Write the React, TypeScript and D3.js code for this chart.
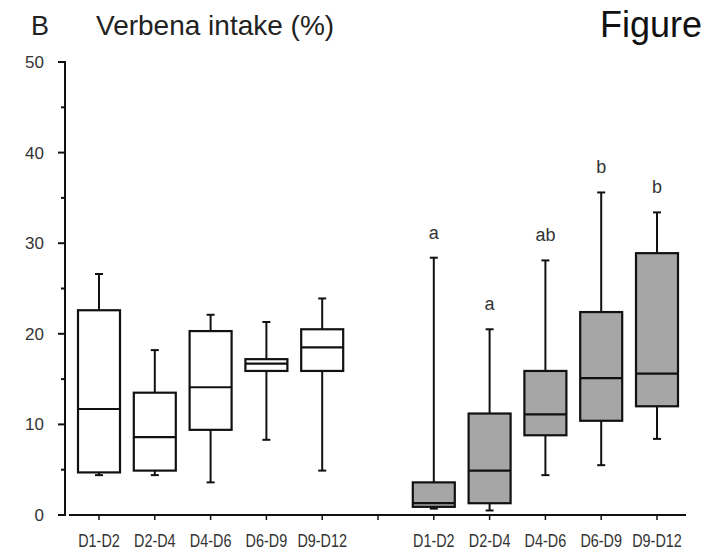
import React, { useEffect, useRef } from 'react';
import * as d3 from 'd3';

const days = ['D1-D2', 'D2-D4', 'D4-D6', 'D6-D9', 'D9-D12'];

// white boxes (left group)
const controlLow = [4.4, 4.4, 3.6, 8.3, 4.9];
const controlQ1 = [4.7, 4.9, 9.4, 15.9, 15.9];
const controlMed = [11.7, 8.6, 14.1, 16.7, 18.5];
const controlQ3 = [22.6, 13.5, 20.3, 17.2, 20.5];
const controlHigh = [26.6, 18.2, 22.1, 21.3, 23.9];

// grey boxes (right group)
const treatLow = [0.7, 0.5, 4.4, 5.5, 8.4];
const treatQ1 = [0.9, 1.3, 8.8, 10.4, 12.0];
const treatMed = [1.3, 4.9, 11.1, 15.1, 15.6];
const treatQ3 = [3.6, 11.2, 15.9, 22.4, 28.9];
const treatHigh = [28.4, 20.5, 28.1, 35.6, 33.4];
const treatLetters = ['a', 'a', 'ab', 'b', 'b'];

const yTicks = [0, 10, 20, 30, 40, 50];

const FONT = 'Liberation Sans, Arial, sans-serif';

const App = () => {
  const svgRef = useRef<SVGSVGElement>(null);

  useEffect(() => {
    const svg = d3.select(svgRef.current);
    svg.selectAll('*').remove();

    const y = d3.scaleLinear().domain([0, 50]).range([515, 62]);
    const x = d3.scaleLinear().domain([1, 11]).range([99, 657]);
    const boxW = 42;
    const capW = 8;
    const ink = '#111';

    // header texts
    svg.append('text').attr('x', 31).attr('y', 35)
      .style('font-family', FONT)
      .style('font-size', '27px').style('fill', '#222').text('B');
    svg.append('text').attr('x', 96).attr('y', 35)
      .style('font-family', FONT)
      .style('font-size', '28px').style('fill', '#222').text('Verbena intake (%)');
    svg.append('text').attr('x', 600).attr('y', 37)
      .style('font-family', FONT)
      .style('font-size', '36px').style('fill', '#111').text('Figure');

    // y axis
    const yAxis = svg.append('g');
    yAxis.append('line')
      .attr('x1', 65).attr('x2', 65)
      .attr('y1', y(50) - 1).attr('y2', y(0) + 1)
      .attr('stroke', ink).attr('stroke-width', 2);
    d3.range(0, 51, 5).forEach(v => {
      const major = v % 10 === 0;
      yAxis.append('line')
        .attr('x1', major ? 58 : 61).attr('x2', 65)
        .attr('y1', y(v)).attr('y2', y(v))
        .attr('stroke', ink).attr('stroke-width', 2);
    });
    yAxis.selectAll('.ylab')
      .data(yTicks)
      .enter()
      .append('text')
      .attr('class', 'ylab')
      .attr('x', 44)
      .attr('y', d => y(d))
      .attr('dy', '0.35em')
      .attr('text-anchor', 'end')
      .style('font-family', FONT)
      .style('font-size', '17px')
      .style('fill', '#333')
      .text(d => d);

    // x axis
    const xAxis = svg.append('g');
    xAxis.append('line')
      .attr('x1', 69).attr('x2', 686)
      .attr('y1', y(0)).attr('y2', y(0))
      .attr('stroke', ink).attr('stroke-width', 2);
    d3.range(1, 12).forEach(p => {
      xAxis.append('line')
        .attr('x1', x(p)).attr('x2', x(p))
        .attr('y1', y(0)).attr('y2', y(0) + 5)
        .attr('stroke', ink).attr('stroke-width', 1.5);
    });

    const groups = [
      { start: 1, fill: '#fff', low: controlLow, q1: controlQ1, med: controlMed, q3: controlQ3, high: controlHigh, letters: null as string[] | null },
      { start: 7, fill: '#a6a6a6', low: treatLow, q1: treatQ1, med: treatMed, q3: treatQ3, high: treatHigh, letters: treatLetters },
    ];

    groups.forEach(gr => {
      const g = svg.append('g');
      days.forEach((day, i) => {
        const cx = x(gr.start + i);

        // narrow-looking tick labels (squeezed sans)
        xAxis.append('text')
          .attr('transform', `translate(${cx},547) scale(0.8,1)`)
          .attr('text-anchor', 'middle')
          .style('font-family', FONT)
          .style('font-size', '18px')
          .style('fill', '#333')
          .text(day);

        // whiskers
        [[gr.high[i], gr.q3[i]], [gr.low[i], gr.q1[i]]].forEach(([end, edge]) => {
          g.append('line')
            .attr('x1', cx).attr('x2', cx)
            .attr('y1', y(end)).attr('y2', y(edge))
            .attr('stroke', ink).attr('stroke-width', 2);
          g.append('line')
            .attr('x1', cx - capW / 2).attr('x2', cx + capW / 2)
            .attr('y1', y(end)).attr('y2', y(end))
            .attr('stroke', ink).attr('stroke-width', 2);
        });

        g.append('rect')
          .attr('x', cx - boxW / 2)
          .attr('y', y(gr.q3[i]))
          .attr('width', boxW)
          .attr('height', y(gr.q1[i]) - y(gr.q3[i]))
          .attr('fill', gr.fill)
          .attr('stroke', ink)
          .attr('stroke-width', 2.2);

        g.append('line')
          .attr('x1', cx - boxW / 2).attr('x2', cx + boxW / 2)
          .attr('y1', y(gr.med[i])).attr('y2', y(gr.med[i]))
          .attr('stroke', ink).attr('stroke-width', 2.2);

        if (gr.letters) {
          g.append('text')
            .attr('x', cx)
            .attr('y', y(gr.high[i]) - 19)
            .attr('text-anchor', 'middle')
            .style('font-family', FONT)
            .style('font-size', '18px')
            .style('fill', '#333')
            .text(gr.letters[i]);
        }
      });
    });
  }, []);

  return (
    <svg
      ref={svgRef}
      width={704}
      height={554}
      style={{ position: 'absolute', top: 0, left: 0, background: '#fff' }}
    />
  );
};

export default App;
